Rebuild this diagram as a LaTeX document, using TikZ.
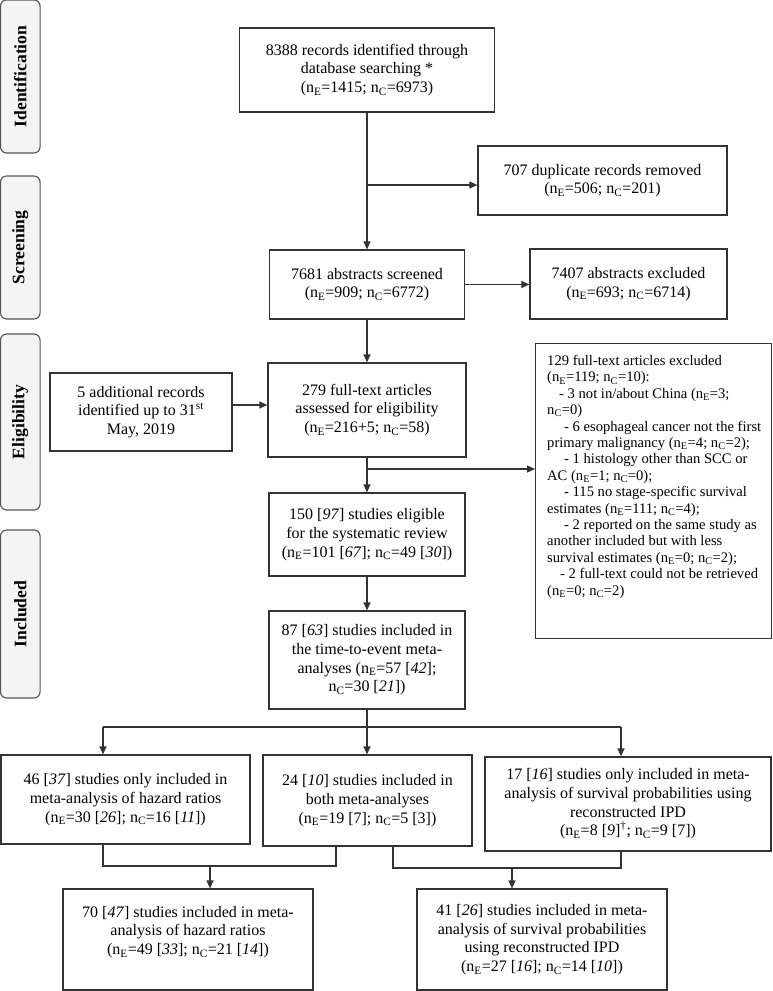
\documentclass[tikz,border=0pt]{standalone}
\usepackage{fontspec}
\setmainfont{Liberation Serif}
\usetikzlibrary{arrows.meta,calc}
\newcommand\myboxfont{\fontsize{16}{18.7}\selectfont}
\newcommand\myexclfont{\fontsize{14.6}{16.4}\selectfont}
\newcommand\myphasefont{\fontsize{17.6}{20}\selectfont}
\newcommand\nsE{n\textsubscript{E}}
\newcommand\nsC{n\textsubscript{C}}
\definecolor{linegray}{HTML}{333333}
\definecolor{phasefill}{HTML}{F4F4F4}
\definecolor{phaseline}{HTML}{555555}
\begin{document}
\begin{tikzpicture}[x=1pt,y=-1pt,
  box/.style={draw=linegray, line width=1.2pt, fill=white, align=center, font=\myboxfont, inner sep=2pt},
  phase/.style={draw=phaseline, line width=1.1pt, fill=phasefill, rounded corners=6pt, rotate=90, font=\myphasefont\bfseries, minimum height=39.5, inner sep=0pt},
  arr/.style={draw=linegray, line width=1.2pt, -{Triangle[length=8pt,width=7pt]}},
  conn/.style={draw=linegray, line width=1.2pt}]
\useasboundingbox (0,0) rectangle (772,991);

% phase labels
\node[phase, minimum width=153] (pid) at (20.3,76.5) {Identification};
\node[phase, minimum width=143] (pscr) at (20.3,247.5) {Screening};
\node[phase, minimum width=176] (pelig) at (20.3,422) {Eligibility};
\node[phase, minimum width=168] (pinc) at (20.3,614) {Included};

% boxes
\node[box, minimum width=255, minimum height=84] (top) at (367,70)
  {8388 records identified through\\database searching *\\(\nsE=1415; \nsC=6973)};
\node[box, minimum width=249, minimum height=69] (dup) at (602.5,180.5)
  {707 duplicate records removed\\(\nsE=506; \nsC=201)};
\node[box, minimum width=195, minimum height=69] (scr) at (367,284.5)
  {7681 abstracts screened\\(\nsE=909; \nsC=6772)};
\node[box, minimum width=197, minimum height=70] (absex) at (628.5,284)
  {7407 abstracts excluded\\(\nsE=693; \nsC=6714)};
\node[box, minimum width=182, minimum height=78] (add) at (141,412)
  {5 additional records\\identified up to 31\textsuperscript{st}\\May, 2019};
\node[box, minimum width=198, minimum height=94] (full) at (367,410)
  {279 full-text articles\\assessed for eligibility\\(\nsE=216+5; \nsC=58)};
\node[box, minimum width=236, minimum height=295, anchor=north west] (excl) at (535,343) {};
\node[anchor=north west, align=left, font=\myexclfont, inner sep=0pt] (excltext) at (547,355)
  {129 full-text articles excluded\\
   (\nsE=119; \nsC=10):\\
   \hspace*{12pt}- 3 not in/about China (\nsE=3;\\
   \nsC=0)\\
   \hspace*{17pt}- 6 esophageal cancer not the first\\
   primary malignancy (\nsE=4; \nsC=2);\\
   \hspace*{17pt}- 1 histology other than SCC or\\
   AC (\nsE=1; \nsC=0);\\
   \hspace*{17pt}- 115 no stage-specific survival\\
   estimates (\nsE=111; \nsC=4);\\
   \hspace*{17pt}- 2 reported on the same study as\\
   another included but with less\\
   survival estimates (\nsE=0; \nsC=2);\\
   \hspace*{13pt}- 2 full-text could not be retrieved\\
   (\nsE=0; \nsC=2)};
\node[box, minimum width=196, minimum height=83] (elig) at (367,534.5)
  {150 [\textit{97}] studies eligible\\for the systematic review\\(\nsE=101 [\textit{67}]; \nsC=49 [\textit{30}])};
\node[box, minimum width=196, minimum height=98] (tte) at (367,660)
  {87 [\textit{63}] studies included in\\the time-to-event meta-\\analyses (\nsE=57 [\textit{42}];\\\nsC=30 [\textit{21}])};
\node[box, minimum width=249, minimum height=89] (hr46) at (125.5,799.5)
  {46 [\textit{37}] studies only included in\\meta-analysis of hazard ratios\\(\nsE=30 [\textit{26}]; \nsC=16 [\textit{11}])};
\node[box, minimum width=209, minimum height=91] (both24) at (367.5,800.5)
  {24 [\textit{10}] studies included in\\both meta-analyses\\(\nsE=19 [7]; \nsC=5 [3])};
\node[box, minimum width=286, minimum height=94] (sp17) at (628,804)
  {17 [\textit{16}] studies only included in meta-\\analysis of survival probabilities using\\reconstructed IPD\\(\nsE=8 [\textit{9}]\textsuperscript{†}; \nsC=9 [7])};
\node[box, minimum width=250, minimum height=101] (hr70) at (188,939.5)
  {70 [\textit{47}] studies included in meta-\\analysis of hazard ratios\\(\nsE=49 [\textit{33}]; \nsC=21 [\textit{14}])\\\mbox{}};
\node[box, minimum width=250, minimum height=101] (sp41) at (542,939.5)
  {41 [\textit{26}] studies included in meta-\\analysis of survival probabilities\\using reconstructed IPD\\(\nsE=27 [\textit{16}]; \nsC=14 [\textit{10}])};

% connectors
\draw[arr] (top) -- (scr);
\coordinate (b1) at (367,185);
\draw[arr] (b1) -- (b1 -| dup.west);
\draw[arr] (scr.east) -- (scr.east -| absex.west);
\draw[arr] (scr) -- (full);
\draw[arr] ([yshift=7pt]add.east) -- ([yshift=7pt]add.east -| full.west);
\draw[arr] (full) -- (elig);
\coordinate (b2) at (367,469);
\draw[arr] (b2) -- (b2 -| excl.west);
\draw[arr] (elig) -- (tte);
\coordinate (s0) at (367,727);
\coordinate (sl) at (103,727);
\coordinate (sr) at (621,727);
\draw[conn] (tte.south) -- (s0);
\draw[conn] (sl) -- (sr);
\draw[arr] (sl) -- (sl |- hr46.north);
\draw[arr] (s0) -- (s0 |- both24.north);
\draw[arr] (sr) -- (sr |- sp17.north);
\coordinate (m1) at (103,866);
\coordinate (m2) at (336,866);
\coordinate (m1d) at (210,866);
\draw[conn] (m1 |- hr46.south) -- (m1) -- (m2) -- (m2 |- both24.south);
\draw[arr] (m1d) -- (m1d |- hr70.north);
\coordinate (n1) at (393,868);
\coordinate (n2) at (621,868);
\coordinate (n1d) at (512,868);
\draw[conn] (n1 |- both24.south) -- (n1) -- (n2) -- (n2 |- sp17.south);
\draw[arr] (n1d) -- (n1d |- sp41.north);
\end{tikzpicture}
\end{document}
